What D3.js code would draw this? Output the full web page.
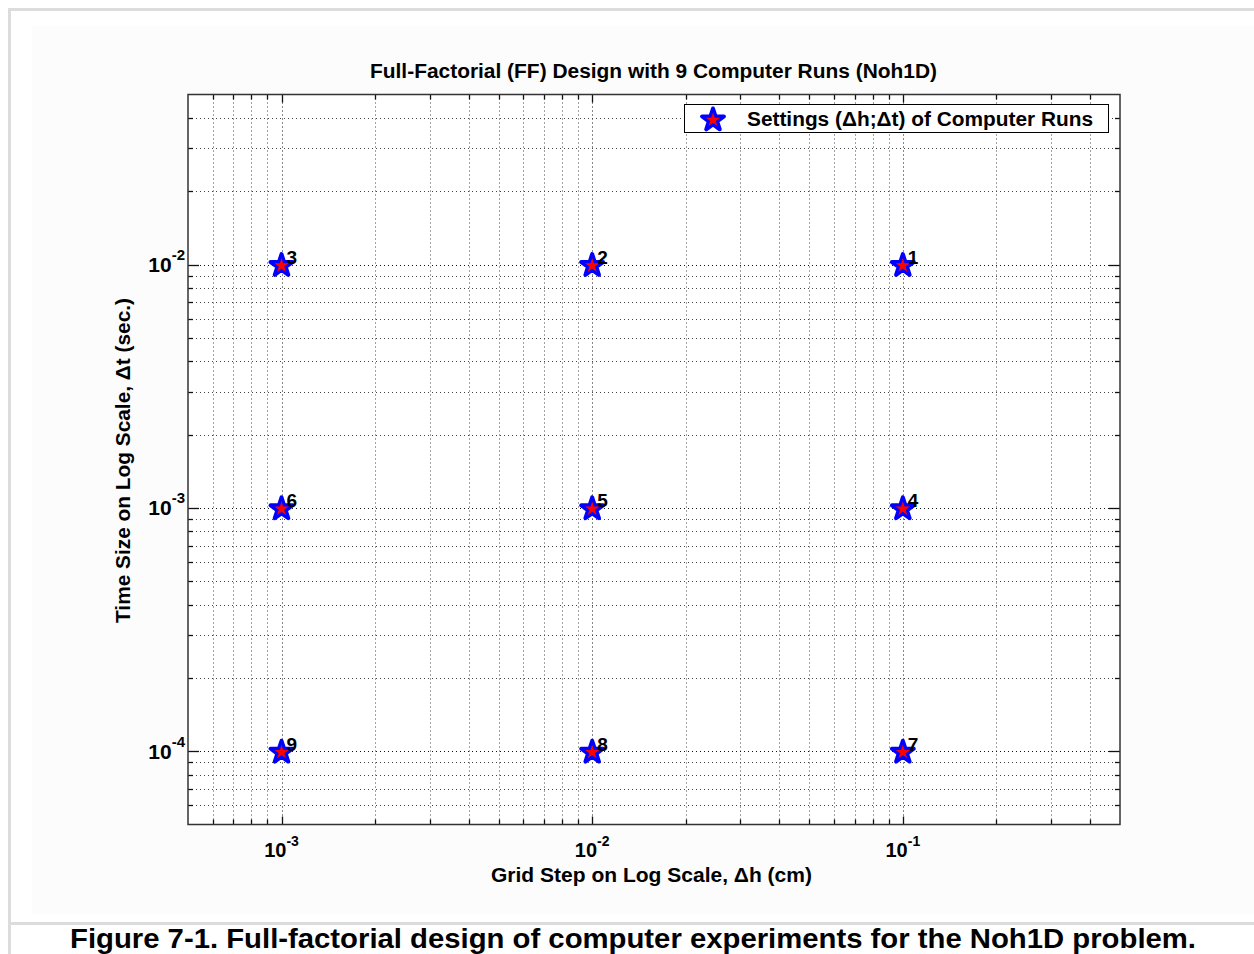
<!DOCTYPE html>
<html>
<head>
<meta charset="utf-8">
<script src="https://cdn.jsdelivr.net/npm/d3@7"></script>
<style>
  html, body { margin: 0; padding: 0; background: #ffffff; }
  svg { display: block; }
  text { font-family: "Liberation Sans", Arial, Helvetica, sans-serif; fill: #000; }
</style>
</head>
<body>
<svg id="chart" width="1254" height="954"></svg>
<script>
// Full-factorial design: three grid steps x three time steps, nine runs
const runIds   = [1, 2, 3, 4, 5, 6, 7, 8, 9];
const gridStep = [1e-1, 1e-2, 1e-3, 1e-1, 1e-2, 1e-3, 1e-1, 1e-2, 1e-3]; // Δh (cm)
const timeStep = [1e-2, 1e-2, 1e-2, 1e-3, 1e-3, 1e-3, 1e-4, 1e-4, 1e-4]; // Δt (sec.)
const xDomain = [5e-4, 5e-1];
const yDomain = [5e-5, 5e-2];
const xMajorTicks = [1e-3, 1e-2, 1e-1];
const yMajorTicks = [1e-4, 1e-3, 1e-2];
const xTickExp = ["-3", "-2", "-1"];
const yTickExp = ["-4", "-3", "-2"];

const titleText  = "Full-Factorial (FF) Design with 9 Computer Runs (Noh1D)";
const xLabelText = "Grid Step on Log Scale, \u0394h (cm)";
const yLabelText = "Time Size on Log Scale, \u0394t (sec.)";
const legendText = "Settings (\u0394h;\u0394t) of Computer Runs";
const captionText = "Figure 7-1. Full-factorial design of computer experiments for the Noh1D problem.";

const svg = d3.select("#chart");
const plot = { left: 188, right: 1120, top: 94.5, bottom: 824.5 };

// page frame
svg.append("rect").attr("x", 32).attr("y", 26).attr("width", 1222).attr("height", 888).attr("fill", "#fcfcfc");
const frame = svg.append("g").attr("fill", "#dcdcdc");
frame.append("rect").attr("x", 8).attr("y", 8).attr("width", 1246).attr("height", 3);
frame.append("rect").attr("x", 8).attr("y", 8).attr("width", 3).attr("height", 946);
frame.append("rect").attr("x", 8).attr("y", 922).attr("width", 1246).attr("height", 3);

const x = d3.scaleLog().domain(xDomain).range([plot.left, plot.right]);
const y = d3.scaleLog().domain(yDomain).range([plot.bottom, plot.top]);

svg.append("rect")
  .attr("x", plot.left).attr("y", plot.top)
  .attr("width", plot.right - plot.left).attr("height", plot.bottom - plot.top)
  .attr("fill", "#ffffff");

const isMajor = v => Math.abs(Math.log10(v) - Math.round(Math.log10(v))) < 1e-9;
const inside = (v, dom) => v > dom[0] * 1.0001 && v < dom[1] * 0.9999;
const xTicks = x.ticks().filter(v => inside(v, xDomain));
const yTicks = y.ticks().filter(v => inside(v, yDomain));

// dotted grid
const grid = svg.append("g").attr("fill", "none").attr("stroke-width", 1).attr("stroke-dasharray", "1,3");
grid.selectAll("line.gx").data(xTicks).join("line")
  .attr("x1", d => Math.round(x(d)) + 0.5).attr("x2", d => Math.round(x(d)) + 0.5)
  .attr("y1", plot.top).attr("y2", plot.bottom)
  .attr("stroke", d => isMajor(d) ? "#111" : "#444");
grid.selectAll("line.gy").data(yTicks).join("line")
  .attr("y1", d => Math.round(y(d)) + 0.5).attr("y2", d => Math.round(y(d)) + 0.5)
  .attr("x1", plot.left).attr("x2", plot.right)
  .attr("stroke", d => isMajor(d) ? "#111" : "#444");

// inward ticks on all four sides
const tk = svg.append("g").attr("stroke", "#111").attr("stroke-width", 1.3);
const xLen = d => isMajor(d) ? 8 : 5;
const yLen = d => isMajor(d) ? 11 : 5;
tk.selectAll("line.tb").data(xTicks).join("line")
  .attr("x1", d => Math.round(x(d)) + 0.5).attr("x2", d => Math.round(x(d)) + 0.5)
  .attr("y1", plot.bottom).attr("y2", d => plot.bottom - xLen(d));
tk.selectAll("line.tt").data(xTicks).join("line")
  .attr("x1", d => Math.round(x(d)) + 0.5).attr("x2", d => Math.round(x(d)) + 0.5)
  .attr("y1", plot.top).attr("y2", d => plot.top + xLen(d));
tk.selectAll("line.tl").data(yTicks).join("line")
  .attr("y1", d => Math.round(y(d)) + 0.5).attr("y2", d => Math.round(y(d)) + 0.5)
  .attr("x1", plot.left).attr("x2", d => plot.left + yLen(d));
tk.selectAll("line.tr").data(yTicks).join("line")
  .attr("y1", d => Math.round(y(d)) + 0.5).attr("y2", d => Math.round(y(d)) + 0.5)
  .attr("x1", plot.right).attr("x2", d => plot.right - yLen(d));

// axes box
svg.append("rect")
  .attr("x", plot.left).attr("y", plot.top)
  .attr("width", plot.right - plot.left).attr("height", plot.bottom - plot.top)
  .attr("fill", "none").attr("stroke", "#333").attr("stroke-width", 1.5);

// tick labels with superscript exponents
const xl = svg.append("g").attr("font-weight", "bold");
xMajorTicks.forEach((v, i) => {
  const t = xl.append("text").attr("x", x(v)).attr("y", 857).attr("text-anchor", "middle")
    .attr("font-size", 20);
  t.append("tspan").text("10");
  t.append("tspan").attr("dy", -11).attr("font-size", 14).text(xTickExp[i]);
});
yMajorTicks.forEach((v, i) => {
  const t = xl.append("text").attr("x", 185).attr("y", y(v) + 7.5).attr("text-anchor", "end")
    .attr("font-size", 21);
  t.append("tspan").text("10");
  t.append("tspan").attr("dy", -12).attr("font-size", 15).text(yTickExp[i]);
});

// titles
svg.append("text").attr("x", 653.5).attr("y", 78)
  .attr("text-anchor", "middle").attr("font-size", 19.5).attr("font-weight", "bold")
  .attr("textLength", 567).attr("lengthAdjust", "spacingAndGlyphs").text(titleText);
svg.append("text").attr("x", 651.5).attr("y", 882)
  .attr("text-anchor", "middle").attr("font-size", 19.5).attr("font-weight", "bold")
  .attr("textLength", 321).attr("lengthAdjust", "spacingAndGlyphs").text(xLabelText);
svg.append("text").attr("transform", "translate(130,460.5) rotate(-90)")
  .attr("text-anchor", "middle").attr("font-size", 19.5).attr("font-weight", "bold")
  .attr("textLength", 325).attr("lengthAdjust", "spacingAndGlyphs").text(yLabelText);

// five-point star marker path
function starPath(R) {
  const r = R * 0.382;
  const pts = [];
  for (let k = 0; k < 10; k++) {
    const a = -Math.PI / 2 + k * Math.PI / 5;
    const rr = k % 2 === 0 ? R : r;
    pts.push([rr * Math.cos(a), rr * Math.sin(a)]);
  }
  return d3.line()(pts) + "Z";
}
function drawStar(g) {
  g.append("path").attr("d", starPath(11.5)).attr("fill", "#0000ff")
    .attr("stroke", "#0000ff").attr("stroke-width", 4).attr("stroke-linejoin", "round");
  g.append("path").attr("d", starPath(7.5)).attr("fill", "#ff0000");
}

const runs = runIds.map((id, i) => ({ id, h: gridStep[i], t: timeStep[i] }));
const marks = svg.append("g");
runs.forEach(d => {
  const g = marks.append("g").attr("transform", `translate(${x(d.h)},${y(d.t) + 1})`);
  drawStar(g);
});
marks.selectAll("text.run").data(runs).join("text")
  .attr("x", d => x(d.h) + 5).attr("y", d => y(d.t) - 0.5)
  .attr("font-size", 19).attr("font-weight", "bold").text(d => d.id);

// legend
const lg = svg.append("g");
lg.append("rect").attr("x", 684.5).attr("y", 104.5).attr("width", 424).attr("height", 28)
  .attr("fill", "#fff").attr("stroke", "#000").attr("stroke-width", 1);
drawStar(lg.append("g").attr("transform", "translate(713,120)"));
lg.append("text").attr("x", 747).attr("y", 126).attr("font-size", 19.5).attr("font-weight", "bold")
  .attr("textLength", 346).attr("lengthAdjust", "spacingAndGlyphs").text(legendText);

// caption
svg.append("text").attr("x", 633).attr("y", 948).attr("text-anchor", "middle")
  .attr("font-size", 27).attr("font-weight", "bold")
  .attr("textLength", 1126).attr("lengthAdjust", "spacingAndGlyphs").text(captionText);
</script>
</body>
</html>
